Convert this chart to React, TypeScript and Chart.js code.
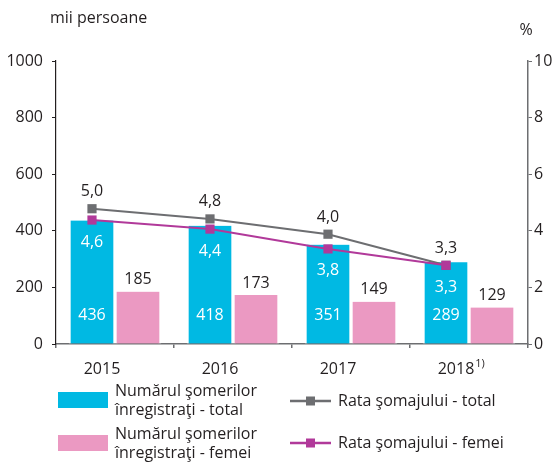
import React, { useEffect, useRef } from 'react';
import { Chart, registerables } from 'chart.js';
Chart.register(...registerables);

const years = ['2015', '2016', '2017', '2018'];
const yearNotes = ['', '', '', '1)'];
const unemployedTotal = [436, 418, 351, 289];
const unemployedWomen = [185, 173, 149, 129];
// positions of the rate markers as plotted in the picture (%)
const rateTotal = [4.78, 4.42, 3.88, 2.78];
const rateWomen = [4.38, 4.06, 3.36, 2.78];
// labels printed next to the markers
const rateTotalLabels = ['5,0', '4,8', '4,0', '3,3'];
const rateWomenLabels = ['4,6', '4,4', '3,8', '3,3'];
const leftUnit = 'mii persoane';
const rightUnit = '%';
const legendBars = [
  ['Numărul şomerilor', 'înregistraţi - total'],
  ['Numărul şomerilor', 'înregistraţi - femei'],
];
const legendLines = ['Rata şomajului - total', 'Rata şomajului - femei'];

const BLUE = '#00b9e3';
const PINK = '#eb99c2';
const GREY = '#6d6e71';
const MAGENTA = '#b1399a';
const TEXT = '#231f20';
const FONT = '"Open Sans", sans-serif';
const BAR_SLOT = 46;
const BAR_GAP = 2;
const LINE_OFFSET = -0.195; // markers sit over the centre of the first bar of each group
const X_LABEL_SHIFT = -13;

export default function App() {
  const ref = useRef<HTMLCanvasElement>(null);
  useEffect(() => {
    const canvas = ref.current!;
    const labelsPlugin = {
      id: 'labelsPlugin',
      afterDraw(chart: any) {
        const ctx = chart.ctx;
        const yScale = chart.scales.y;
        const xScale = chart.scales.x;
        ctx.save();
        ctx.textAlign = 'center';
        ctx.textBaseline = 'middle';
        ctx.font = `16px ${FONT}`;
        ctx.fillStyle = TEXT;
        ctx.textAlign = 'left';
        ctx.fillText(leftUnit, 50, 18);
        ctx.textAlign = 'center';
        ctx.fillText(rightUnit, 526, 30);
        const mBlue = chart.getDatasetMeta(2);
        const mPink = chart.getDatasetMeta(3);
        const base = yScale.getPixelForValue(0);
        mBlue.data.forEach((el: any, i: number) => {
          ctx.fillStyle = '#ffffff';
          ctx.fillText(String(unemployedTotal[i]), el.x, base - 29);
        });
        mPink.data.forEach((el: any, i: number) => {
          ctx.fillStyle = TEXT;
          ctx.fillText(String(unemployedWomen[i]), el.x, el.y - 12);
        });
        const mTotal = chart.getDatasetMeta(1);
        const mWomen = chart.getDatasetMeta(0);
        mTotal.data.forEach((el: any, i: number) => {
          ctx.fillStyle = TEXT;
          ctx.fillText(rateTotalLabels[i], el.x, el.y - 17);
        });
        mWomen.data.forEach((el: any, i: number) => {
          ctx.fillStyle = '#ffffff';
          ctx.fillText(rateWomenLabels[i], el.x, el.y + 22);
        });
        years.forEach((y, i) => {
          if (!yearNotes[i]) return;
          ctx.font = `16px ${FONT}`;
          const cx = xScale.getPixelForValue(i) + X_LABEL_SHIFT;
          const w = ctx.measureText(y).width;
          ctx.font = `11px ${FONT}`;
          ctx.fillStyle = TEXT;
          ctx.textAlign = 'left';
          ctx.fillText(yearNotes[i], cx + w / 2 + 1, 364);
        });
        ctx.font = `16px ${FONT}`;
        ctx.textAlign = 'left';
        const barColors = [BLUE, PINK];
        const barY = [392, 435];
        legendBars.forEach((lines, k) => {
          ctx.fillStyle = barColors[k];
          ctx.fillRect(58, barY[k], 50, 16);
          ctx.fillStyle = TEXT;
          lines.forEach((t, j) => ctx.fillText(t, 115, barY[k] - 1 + j * 19));
        });
        const lineColors = [GREY, MAGENTA];
        const lineY = [401, 443];
        legendLines.forEach((t, k) => {
          ctx.strokeStyle = lineColors[k];
          ctx.lineWidth = 2.5;
          ctx.beginPath();
          ctx.moveTo(290, lineY[k]);
          ctx.lineTo(331, lineY[k]);
          ctx.stroke();
          ctx.fillStyle = lineColors[k];
          ctx.fillRect(306, lineY[k] - 4.5, 9, 9);
          ctx.fillStyle = TEXT;
          ctx.fillText(t, 338, lineY[k]);
        });
        ctx.restore();
      },
    };

    const barStyle = {
      barThickness: BAR_SLOT,
      borderColor: '#ffffff',
      borderWidth: { left: BAR_GAP, right: BAR_GAP, top: 0, bottom: 0 },
      borderSkipped: false,
    };

    const chart = new Chart(canvas, {
      type: 'bar',
      data: {
        labels: years,
        datasets: [
          {
            type: 'line',
            label: legendLines[1],
            data: rateWomen.map((v, i) => ({ x: i + LINE_OFFSET, y: v })),
            xAxisID: 'xl',
            yAxisID: 'y1',
            borderColor: MAGENTA,
            backgroundColor: MAGENTA,
            borderWidth: 2,
            pointStyle: 'rect',
            pointRadius: 6.5,
            pointBorderWidth: 0,
            order: 0,
          },
          {
            type: 'line',
            label: legendLines[0],
            data: rateTotal.map((v, i) => ({ x: i + LINE_OFFSET, y: v })),
            xAxisID: 'xl',
            yAxisID: 'y1',
            borderColor: GREY,
            backgroundColor: GREY,
            borderWidth: 2,
            pointStyle: 'rect',
            pointRadius: 6.5,
            pointBorderWidth: 0,
            order: 1,
          },
          {
            type: 'bar',
            label: legendBars[0].join(' '),
            data: unemployedTotal,
            xAxisID: 'x',
            yAxisID: 'y',
            backgroundColor: BLUE,
            ...barStyle,
            order: 2,
          },
          {
            type: 'bar',
            label: legendBars[1].join(' '),
            data: unemployedWomen,
            xAxisID: 'x',
            yAxisID: 'y',
            backgroundColor: PINK,
            ...barStyle,
            order: 2,
          },
        ],
      } as any,
      options: {
        responsive: false,
        animation: false,
        layout: { padding: { top: 61, left: 0, right: 0, bottom: 0 } },
        plugins: { legend: { display: false }, tooltip: { enabled: false } },
        scales: {
          x: {
            type: 'category',
            offset: true,
            grid: { display: true, drawOnChartArea: false, drawTicks: true, tickLength: 4, color: GREY, lineWidth: 1.5, offset: true },
            border: { display: true, color: GREY, width: 1.5 },
            ticks: { color: TEXT, font: { family: FONT, size: 16 }, padding: 12, maxRotation: 0, labelOffset: X_LABEL_SHIFT },
            afterFit: (s: any) => { s.height = 119; },
          },
          xl: {
            type: 'linear',
            display: false,
            offset: false,
            grid: { offset: false },
            min: -0.5,
            max: 3.5,
          },
          y: {
            position: 'left',
            min: 0,
            max: 1000,
            ticks: { stepSize: 200, color: TEXT, font: { family: FONT, size: 16 }, padding: 9, callback: (v: any) => String(v) },
            grid: { drawOnChartArea: false, tickLength: 4, color: TEXT, lineWidth: 1 },
            border: { color: TEXT, width: 1.2 },
            afterFit: (s: any) => { s.width = 56; },
          },
          y1: {
            position: 'right',
            min: 0,
            max: 10,
            ticks: { stepSize: 2, color: TEXT, font: { family: FONT, size: 16 }, padding: 2, callback: (v: any) => String(v) },
            grid: { drawOnChartArea: false, tickLength: 4, color: GREY, lineWidth: 1 },
            border: { color: GREY, width: 1.5 },
            afterFit: (s: any) => { s.width = 26; },
          },
        },
      } as any,
      plugins: [labelsPlugin],
    });
    return () => chart.destroy();
  }, []);
  return (
    <div style={{ position: 'fixed', left: 0, top: 0, width: 554, height: 463, background: '#fff' }}>
      <canvas ref={ref} width={554} height={463} />
    </div>
  );
}
